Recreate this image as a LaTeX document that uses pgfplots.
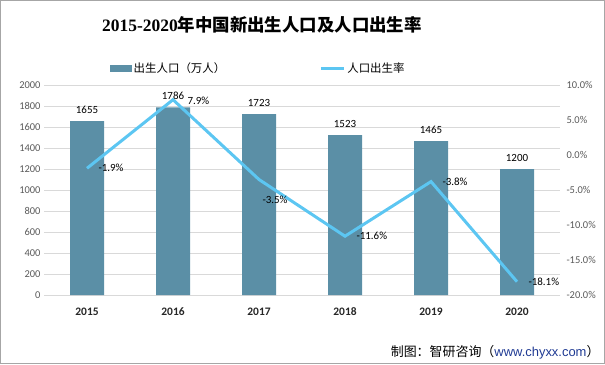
\documentclass[border=0pt]{standalone}
\usepackage{pgfplots}
\pgfplotsset{compat=1.18}
\usepackage{pgfplotstable}
\usepackage{fontspec}
\setmainfont{Carlito}
\newfontfamily\cjk{Noto Sans CJK SC}
\newfontfamily\titleserif{Liberation Serif}
\definecolor{barc}{HTML}{5B8FA6}
\definecolor{linec}{HTML}{5CC6F2}
\definecolor{tickc}{HTML}{595959}
\definecolor{gridc}{HTML}{D9D9D9}
\definecolor{urlc}{HTML}{1F3A93}
\pgfplotstableread{
x pop rate
0 1655 -1.9
1 1786 7.9
2 1723 -3.5
3 1523 -11.6
4 1465 -3.8
5 1200 -18.1
}\data
\begin{document}
\begin{tikzpicture}[x=1bp,y=1bp]
\path[use as bounding box] (0,0) rectangle (605,364);
\draw[gray!70, line width=1.2bp] (0.6,0.6) rectangle (604.4,363.4);
\node[font=\fontsize{17.5}{20}\selectfont\bfseries] at (262,339) {\titleserif 2015-2020\cjk 年中国新出生人口及人口出生率};
\begin{axis}[at={(44bp,69bp)}, anchor=south west, scale only axis,
  width=516bp, height=210bp,
  xmin=-0.5, xmax=5.5, ymin=0, ymax=2000, ytick={0,200,...,2000},
  axis line style={draw=none}, tick style={draw=none},
  ymajorgrids, grid style={gridc, line width=0.8bp},
  xtick=data, xticklabels={2015,2016,2017,2018,2019,2020},
  xticklabel style={font=\fontsize{11.5}{12}\selectfont\bfseries, text=black!85, yshift=-9bp},
  yticklabel style={font=\fontsize{10.5}{12}\selectfont, text=tickc},
  /pgf/number format/assume math mode=true,
  /pgf/number format/1000 sep={},
  scaled y ticks=false,
  legend style={at={(0.415,1.08)}, anchor=center, draw=none, fill=none,
    font=\fontsize{11.5}{12}\selectfont\cjk, legend columns=2,
    /tikz/every even column/.append style={column sep=92bp}},
  ]
\addplot[ybar, bar width=34bp, fill=barc, draw=none,
  nodes near coords, nodes near coords style={font=\fontsize{11}{12}\selectfont, text=black, yshift=4bp, /pgf/number format/1000 sep={}},
  legend image code/.code={\fill[barc] (0bp,-3.5bp) rectangle (22bp,3.5bp);}]
  table[x=x,y=pop]{\data};
\addlegendentry{出生人口（万人）}
\addlegendimage{linec, line width=3bp, legend image code/.code={\draw[linec, line width=3bp] (0bp,0bp) -- (23bp,0bp);}}
\addlegendentry{人口出生率}
\end{axis}
\begin{axis}[at={(44bp,69bp)}, anchor=south west, scale only axis,
  width=516bp, height=210bp,
  xmin=-0.5, xmax=5.5, ymin=-20, ymax=10, ytick={-20,-15,...,10},
  axis y line*=right, axis x line=none,
  axis line style={draw=none}, tick style={draw=none},
  yticklabel style={font=\fontsize{10.5}{12}\selectfont, text=tickc, xshift=3bp},
  /pgf/number format/assume math mode=true,
  yticklabel={\pgfmathprintnumber[fixed,fixed zerofill,precision=1]{\tick}\%},
  ]
\addplot[linec, line width=3bp, no markers,
  nodes near coords={\pgfmathprintnumber[fixed,precision=1]{\pgfplotspointmeta}\%},
  point meta=explicit,
  nodes near coords style={font=\fontsize{11}{12}\selectfont, text=black, anchor=west, inner sep=1bp, xshift=9bp},
  coordinate style/.condition={\coordindex==1}{xshift=3bp, yshift=-1bp},
  coordinate style/.condition={\coordindex==2}{anchor=north west, xshift=-8bp, yshift=-20bp}]
  table[x=x,y=rate,meta=rate]{\data};
\end{axis}
\node[anchor=east, font=\fontsize{13}{15}\selectfont] at (603,12) {\cjk 制图：智研咨询（\textcolor{urlc}{\fontspec{Liberation Sans}www.chyxx.com}）};
\end{tikzpicture}
\end{document}
